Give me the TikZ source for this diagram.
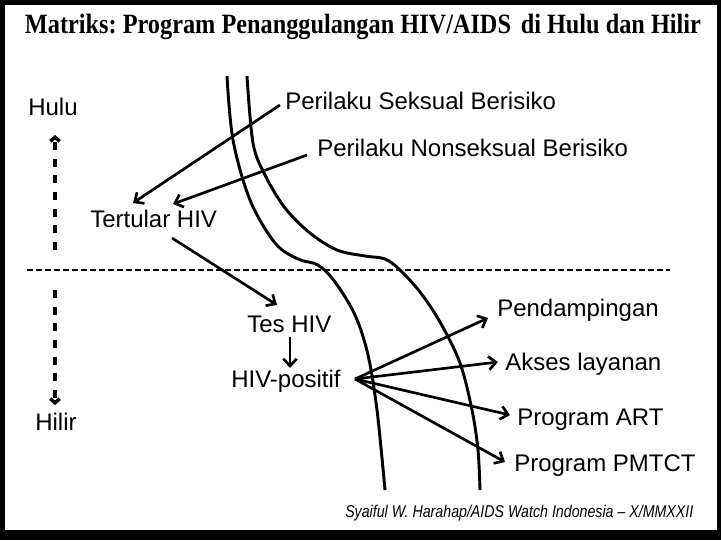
\documentclass[tikz,border=0pt]{standalone}
\usepackage{fontspec}
\setmainfont{Liberation Serif}
\newfontfamily\arial{Liberation Sans}
\usetikzlibrary{arrows.meta}
\begin{document}
\frenchspacing
\begin{tikzpicture}[x=0.75pt,y=-0.75pt,
  lbl/.style={anchor=base west,inner sep=0pt,font=\arial\fontsize{18pt}{21pt}\selectfont},
  arr/.style={line width=2pt,-{Straight Barb[length=5.5pt,width=10pt]}},
  curve/.style={line width=2.2pt},
  vdash/.style={line width=2.6pt,dash pattern=on 6pt off 6.5pt,-{Straight Barb[length=3pt,width=7pt]}},
  hdash/.style={line width=1.6pt,dash pattern=on 4.5pt off 2.25pt}]
\useasboundingbox (0,0) rectangle (721,540);
\fill[black] (0,0) rectangle (721,540);
\fill[white] (5,5) rectangle (717,530);

% title
\node[anchor=base,inner sep=0pt] (title) at (363,33)
  {\scalebox{1}[1.15]{\resizebox{507pt}{!}{\fontsize{18pt}{21pt}\selectfont\bfseries Matriks: Program Penanggulangan HIV/AIDS\hspace{0.15em} di Hulu dan Hilir}}};

% footer
\node[anchor=base west,inner sep=0pt] (foot) at (345,517)
  {\scalebox{1}[1.2]{\resizebox{261pt}{!}{\arial\itshape\fontsize{10.6pt}{12pt}\selectfont Syaiful W. Harahap/AIDS Watch Indonesia – X/MMXXII}}};

% labels
\node[lbl] (hulu) at (28,115) {Hulu};
\node[lbl] (hilir) at (35,430) {Hilir};
\node[lbl] (psb) at (285,109) {Perilaku Seksual Berisiko};
\node[lbl] (pnb) at (317,156) {Perilaku Nonseksual Berisiko};
\node[lbl] (tert) at (90,227) {Tertular HIV};
\node[lbl] (tes) at (247,332) {Tes HIV};
\node[lbl] (hivpos) at (231,387) {HIV-positif};
\node[lbl] (pend) at (497,316) {Pendampingan};
\node[lbl] (akses) at (505,370) {Akses layanan};
\node[lbl] (art) at (517,425) {Program ART};
\node[lbl] (pmtct) at (514,471) {Program PMTCT};

% separator and direction arrows
\coordinate (hl) at (27,270);
\coordinate (hr) at (670,270);
\draw[hdash] (hl) -- (hr);
\coordinate (up0) at (55,250);
\coordinate (up1) at (55,135);
\draw[vdash] (up0) -- (up1);
\coordinate (dn0) at (55,290);
\coordinate (dn1) at (55,405);
\draw[vdash] (dn0) -- (dn1);

% the two curves
\draw[curve] plot[smooth,tension=0.55] coordinates {(227,76) (233,140) (250,200) (275,243) (298,259) (318,265) (335,282) (355,315) (368,355) (377,410) (385,490)};
\draw[curve] plot[smooth,tension=0.55] coordinates {(247,76) (253,143) (265,175) (285,208) (310,233) (337,250) (365,256) (385,259) (400,270) (420,292) (440,322) (460,363) (472,410) (478,450) (480,490)};

% arrows
\coordinate (a1s) at (280,105);
\coordinate (a1e) at (133,203);
\coordinate (a2s) at (307,155);
\coordinate (a2e) at (173,204);
\coordinate (a3s) at (172,238);
\coordinate (a3e) at (277,305);
\coordinate (a4s) at (290,337);
\coordinate (a4e) at (290,368);
\coordinate (hp) at (355,379);
\coordinate (f1) at (488,318);
\coordinate (f2) at (498,362);
\coordinate (f3) at (510,415);
\coordinate (f4) at (505,462);
\draw[arr] (a1s) -- (a1e);
\draw[arr] (a2s) -- (a2e);
\draw[arr] (a3s) -- (a3e);
\draw[arr] (a4s) -- (a4e);
\draw[arr] (hp) -- (f1);
\draw[arr] (hp) -- (f2);
\draw[arr] (hp) -- (f3);
\draw[arr] (hp) -- (f4);
\end{tikzpicture}
\end{document}
